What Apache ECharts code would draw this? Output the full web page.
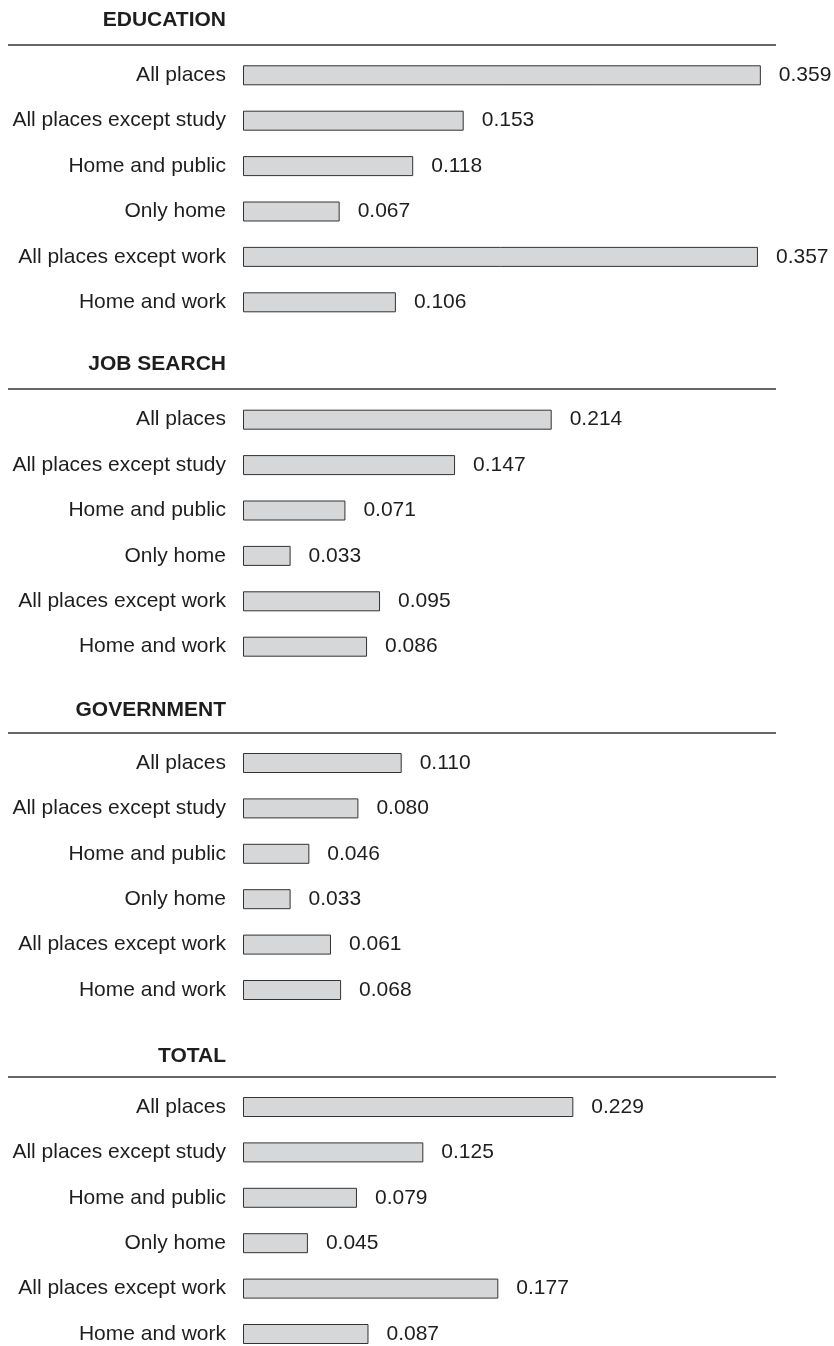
<!DOCTYPE html>
<html>
<head>
<meta charset="utf-8">
<script src="https://cdn.jsdelivr.net/npm/echarts@6/dist/echarts.min.js"></script>
<style>
html,body{margin:0;padding:0;background:#fff;}
#chart{width:834px;height:1346px;}
</style>
</head>
<body>
<div id="chart"></div>
<script>
const categories = ["All places", "All places except study", "Home and public", "Only home", "All places except work", "Home and work"];
const panelTitles = ["EDUCATION", "JOB SEARCH", "GOVERNMENT", "TOTAL"];
const education = [0.359, 0.153, 0.118, 0.067, 0.357, 0.106];
const jobSearch = [0.214, 0.147, 0.071, 0.033, 0.095, 0.086];
const government = [0.110, 0.080, 0.046, 0.033, 0.061, 0.068];
const total = [0.229, 0.125, 0.079, 0.045, 0.177, 0.087];

const panels = [education, jobSearch, government, total];
// first-row center of each panel; categories run edge to edge (boundaryGap false)
const gridTops = [75.3, 419.7, 763, 1107];
const lineYs = [45, 389, 733, 1077];
const titleYs = [20, 364, 710, 1056];
const font = "'Liberation Sans', Arial, Helvetica, sans-serif";

const chart = echarts.init(document.getElementById('chart'), null, {renderer: 'canvas'});

const grids = [], xAxes = [], yAxes = [], series = [], graphics = [];
panels.forEach((vals, i) => {
  grids.push({left: 243, width: 577, top: gridTops[i], height: 227, containLabel: false});
  xAxes.push({type: 'value', gridIndex: i, min: 0, max: 0.4, show: false});
  yAxes.push({
    type: 'category', gridIndex: i, data: categories, inverse: true, boundaryGap: false,
    axisLine: {show: false}, axisTick: {show: false}, splitLine: {show: false},
    axisLabel: {margin: 17, fontSize: 21, color: '#1e1e1e', fontFamily: font}
  });
  series.push({
    type: 'bar', xAxisIndex: i, yAxisIndex: i, data: vals, barWidth: 20,
    itemStyle: {color: '#d6d7d9', borderColor: '#333', borderWidth: 1},
    label: {show: true, position: 'right', distance: 18, fontSize: 21, color: '#1e1e1e', fontFamily: font,
      formatter: p => p.value.toFixed(3)},
    silent: true, animation: false
  });
  graphics.push({
    type: 'line', shape: {x1: 8, y1: lineYs[i], x2: 776, y2: lineYs[i]},
    style: {stroke: '#333', lineWidth: 1.5}
  });
  graphics.push({
    type: 'text', x: 226, y: titleYs[i],
    style: {text: panelTitles[i], fill: '#1e1e1e', font: "bold 21px " + font, textAlign: 'right', textVerticalAlign: 'middle'}
  });
});

chart.setOption({
  animation: false,
  backgroundColor: '#fff',
  grid: grids, xAxis: xAxes, yAxis: yAxes, series: series, graphic: graphics
});
</script>
</body>
</html>
